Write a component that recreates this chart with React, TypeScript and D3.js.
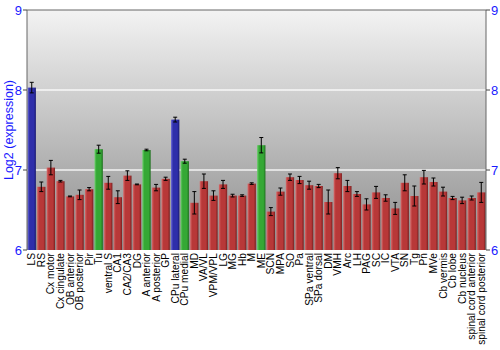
import React from "react";
import * as d3 from "d3";

const categories = ["LS","RS","Cx motor","Cx cingulate","OB anterior","OB posterior","Pir","Tu","ventral S","CA1","CA2/CA3","DG","A anterior","A posterior","GP","CPu lateral","CPu medial","MD","VA/VL","VPM/VPL","LG","MG","Hb","M","ME","SCN","MPA","SO","Pa","SPa ventral","SPa dorsal","DM","VMH","Arc","LH","PAG","SC","IC","VTA","SN","Tg","Pn","MVe","Cb vermis","Cb lobe","Cb nucleus","spinal cord anterior","spinal cord posterior"];
const values = [8.03,6.79,7.03,6.86,6.67,6.69,6.76,7.26,6.84,6.66,6.93,6.82,7.25,6.78,6.89,7.63,7.11,6.59,6.86,6.68,6.82,6.68,6.68,6.83,7.31,6.48,6.73,6.91,6.875,6.81,6.80,6.6,6.96,6.80,6.70,6.57,6.72,6.65,6.52,6.84,6.675,6.91,6.85,6.73,6.65,6.62,6.65,6.72];
const errors = [0.066,0.06,0.09,0.01,0.005,0.06,0.02,0.05,0.08,0.08,0.06,0.005,0.01,0.04,0.02,0.03,0.025,0.14,0.09,0.06,0.05,0.017,0.01,0.01,0.096,0.05,0.045,0.04,0.045,0.05,0.02,0.15,0.07,0.07,0.03,0.07,0.075,0.04,0.075,0.1,0.125,0.085,0.05,0.055,0.02,0.04,0.025,0.125];
const groups = ["b","r","r","r","r","r","r","g","r","r","r","r","g","r","r","b","g","r","r","r","r","r","r","r","g","r","r","r","r","r","r","r","r","r","r","r","r","r","r","r","r","r","r","r","r","r","r","r"];
const yTicks = [6, 7, 8, 9];

export default function App() {
  const W = 500, H = 350;
  const left = 27, right = 486, top = 10, bottom = 250;
  const x = d3.scaleBand<string>().domain(categories).range([left, right]).paddingInner(0.13).paddingOuter(0.06);
  const y = d3.scaleLinear().domain([6, 9]).range([bottom, top]);
  const font = "'Liberation Sans', Arial, sans-serif";
  const grads: Record<string, [string, string, string]> = {
    b: ["#6a6ad8", "#2e2eaa", "#1a1a70"],
    r: ["#d86a6a", "#b83838", "#7a2020"],
    g: ["#6ad06a", "#35a835", "#1f701f"],
  };
  return (
    <svg width={W} height={H} style={{ position: "absolute", left: 0, top: 0 }} fontFamily={font}>
      <defs>
        <linearGradient id="bg" x1="0" y1="0" x2="0" y2="1">
          <stop offset="0" stopColor="#f3f3f3" />
          <stop offset="1" stopColor="#8c8c8c" />
        </linearGradient>
        {Object.entries(grads).map(([k, c]) => (
          <linearGradient key={k} id={"bar" + k} x1="0" y1="0" x2="1" y2="0">
            <stop offset="0" stopColor={c[0]} />
            <stop offset="0.25" stopColor={c[1]} />
            <stop offset="0.75" stopColor={c[1]} />
            <stop offset="1" stopColor={c[2]} />
          </linearGradient>
        ))}
      </defs>
      <rect x={left} y={top} width={right - left} height={bottom - top} fill="url(#bg)" />
      {[7, 8].map((t) => (
        <line key={t} x1={left} x2={right} y1={y(t)} y2={y(t)} stroke="#ffffff" strokeWidth={1.5} opacity={0.85} />
      ))}
      {categories.map((c, i) => (
        <rect key={c} x={x(c)} y={y(values[i])} width={x.bandwidth()} height={bottom - y(values[i])} fill={`url(#bar${groups[i]})`} />
      ))}
      {categories.map((c, i) => {
        const cx = (x(c) as number) + x.bandwidth() / 2;
        const y1 = y(values[i] + errors[i]);
        const y2 = y(values[i] - errors[i]);
        return (
          <g key={c} stroke="#000" strokeWidth={1}>
            <line x1={cx} x2={cx} y1={y1} y2={y2} />
            <line x1={cx - 2} x2={cx + 2} y1={y1} y2={y1} />
            <line x1={cx - 2} x2={cx + 2} y1={y2} y2={y2} />
          </g>
        );
      })}
      <line x1={left} x2={left} y1={top} y2={bottom} stroke="#666" />
      <line x1={right} x2={right} y1={top} y2={bottom} stroke="#666" />
      <line x1={left} x2={right} y1={top} y2={top} stroke="#666" />
      {yTicks.map((t) => (
        <g key={t}>
          <line x1={left - 4} x2={left} y1={y(t)} y2={y(t)} stroke="#444" />
          <line x1={right} x2={right + 4} y1={y(t)} y2={y(t)} stroke="#444" />
          <text x={left - 5} y={y(t)} dy="0.35em" textAnchor="end" fill="#1a1aff" fontSize={13}>{t}</text>
          <text x={right + 5} y={y(t)} dy="0.35em" textAnchor="start" fill="#1a1aff" fontSize={13}>{t}</text>
        </g>
      ))}
      <text transform={`translate(9,${(top + bottom) / 2}) rotate(-90)`} textAnchor="middle" dy="0.35em" fill="#1a1aff" fontSize={12.5}>Log2 (expression)</text>
      {categories.map((c) => {
        const cx = (x(c) as number) + x.bandwidth() / 2;
        return (
          <text key={c} transform={`translate(${cx},${bottom + 3}) rotate(-90)`} textAnchor="end" dy="0.35em" fontSize={10.2} fill="#000">{c}</text>
        );
      })}
    </svg>
  );
}
